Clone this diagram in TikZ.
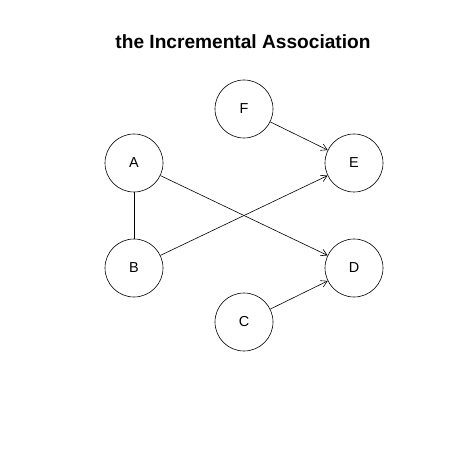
\documentclass[tikz,border=0pt]{standalone}
\usepackage{fontspec}
\setmainfont{Liberation Sans}
\usetikzlibrary{arrows.meta}
\begin{document}
\begin{tikzpicture}[x=1bp,y=-1bp,
  vertex/.style={circle,draw,line width=0.6bp,minimum size=58bp,inner sep=0pt,font=\fontsize{14.5}{16}\selectfont},
  edge/.style={line width=0.6bp},
  arr/.style={edge,-{Straight Barb[length=6bp,width=7bp]}}]
\useasboundingbox[fill=white] (0,0) rectangle (450,450);
\node[font=\bfseries\fontsize{19.2}{22}\selectfont] (title) at (243,42) {the Incremental Association};
\node[vertex] (A) at (134,163) {A};
\node[vertex] (B) at (134,268) {B};
\node[vertex] (C) at (244,322) {C};
\node[vertex] (D) at (354,268) {D};
\node[vertex] (E) at (354,163) {E};
\node[vertex] (F) at (244,109) {F};
\draw[edge] (A) -- (B);
\draw[arr] (F) -- (E);
\draw[arr] (B) -- (E);
\draw[arr] (A) -- (D);
\draw[arr] (C) -- (D);
\end{tikzpicture}
\end{document}
